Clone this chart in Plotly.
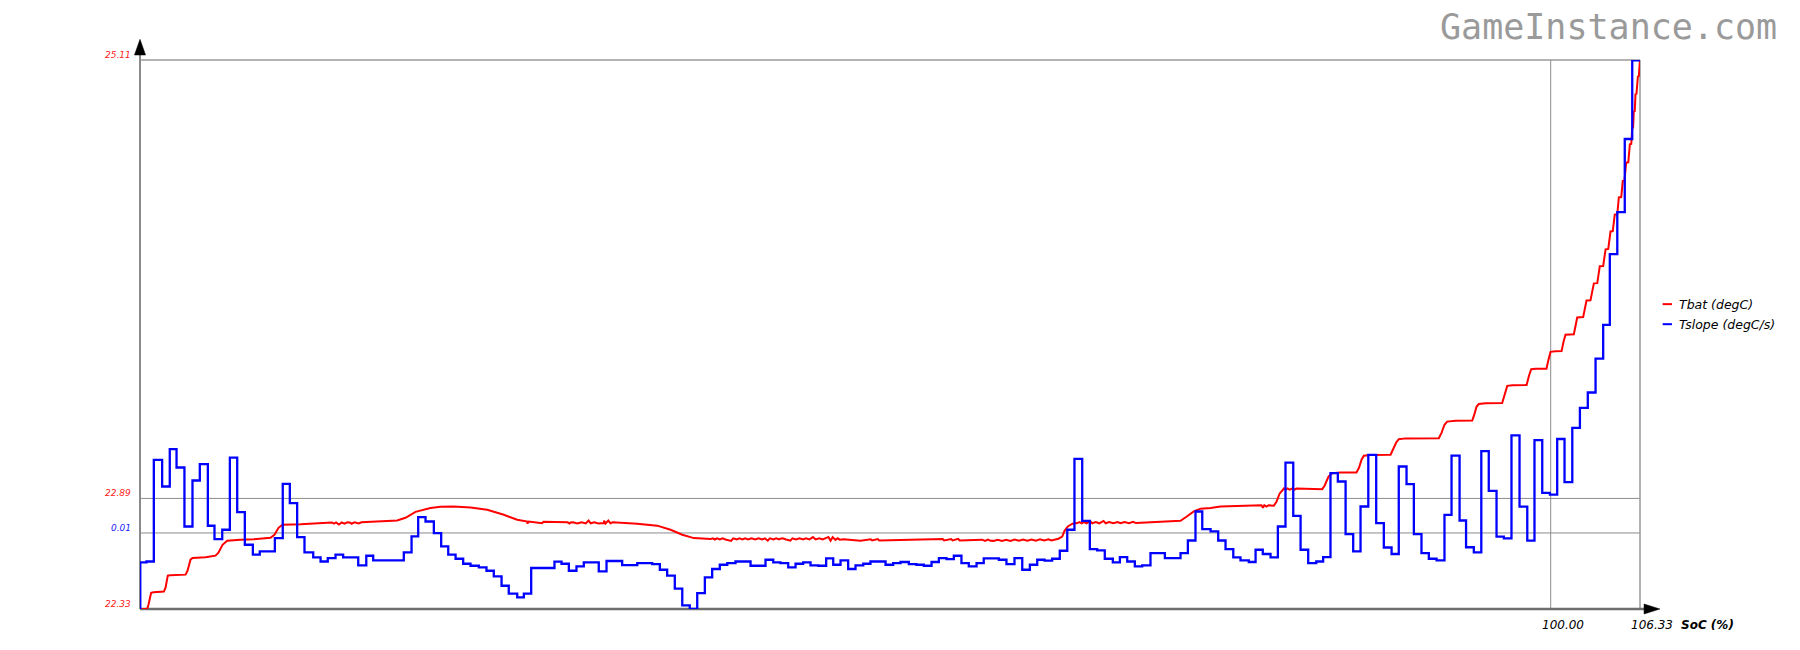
import plotly.graph_objects as go

# ---------------- data ----------------
# Tbat (degC) vs SoC (%)
tbat_x = [0, 0.51, 0.60, 0.79, 0.96, 1.69, 1.81, 1.97, 2.16, 3.23, 3.37, 3.58, 3.72, 4.64, 5.35, 5.56,
          5.85, 6.18, 7.12, 8.07, 9.25, 9.53, 9.82, 10.10, 11.38, 12.56, 14.92, 17.05, 18.23, 18.82,
          19.53, 20.59, 21.30, 22.24, 23.43, 24.61, 25.79, 26.74, 27.45, 30.52, 32.88, 35.25, 36.66,
          37.61, 38.44, 39.26, 40.44, 45.40, 49.87, 51.07, 60.29, 64.76, 65.11, 65.37, 65.54, 65.77,
          66.10, 66.44, 71.40, 73.76, 74.18, 74.70, 75.18, 75.89, 76.59, 78.72, 80.37, 80.56, 80.78,
          80.97, 81.56, 83.80, 83.97, 84.25, 84.51, 85.10, 86.23, 86.41, 86.59, 86.75, 87.23, 88.65,
          88.82, 89.04, 89.23, 89.71, 92.07, 92.26, 92.47, 92.66, 93.25, 94.44, 94.60, 94.74, 94.90,
          95.38, 96.56, 96.73, 96.92, 97.29, 98.29, 98.46, 98.62, 98.92, 99.70, 99.84, 99.99, 100.34,
          100.77, 100.91, 101.05, 101.64, 101.76, 101.88, 102.30, 102.43, 102.54, 102.82, 102.95,
          103.06, 103.30, 103.39, 103.48, 103.72, 103.81, 103.89, 104.08, 104.17, 104.24, 104.40,
          104.49, 104.54, 104.72, 104.78, 104.83, 105.00, 105.11, 105.23, 105.35, 105.50, 105.61,
          105.71, 105.78, 105.84, 105.89, 105.96, 106.01, 106.08, 106.18, 106.25, 106.32]
tbat_y = [22.330, 22.330, 22.352, 22.412, 22.415, 22.418, 22.438, 22.499, 22.501, 22.504, 22.524,
          22.580, 22.588, 22.592, 22.600, 22.615, 22.655, 22.676, 22.681, 22.683, 22.691, 22.706,
          22.741, 22.757, 22.759, 22.762, 22.767, 22.772, 22.778, 22.792, 22.822, 22.841, 22.848,
          22.849, 22.844, 22.833, 22.807, 22.782, 22.773, 22.768, 22.765, 22.762, 22.752, 22.731,
          22.706, 22.689, 22.684, 22.686, 22.683, 22.676, 22.676, 22.681, 22.686, 22.697, 22.726,
          22.748, 22.762, 22.765, 22.768, 22.777, 22.797, 22.824, 22.838, 22.841, 22.849, 22.851,
          22.853, 22.873, 22.914, 22.934, 22.936, 22.937, 22.954, 23.000, 23.018, 23.021, 23.021,
          23.045, 23.086, 23.106, 23.110, 23.111, 23.136, 23.172, 23.190, 23.194, 23.195, 23.222,
          23.263, 23.279, 23.283, 23.284, 23.318, 23.354, 23.368, 23.372, 23.373, 23.420, 23.460,
          23.463, 23.464, 23.511, 23.544, 23.546, 23.547, 23.592, 23.632, 23.635, 23.636, 23.683,
          23.719, 23.721, 23.769, 23.806, 23.808, 23.855, 23.892, 23.893, 23.941, 23.979, 23.980,
          24.027, 24.066, 24.067, 24.118, 24.151, 24.153, 24.199, 24.242, 24.244, 24.290, 24.327,
          24.329, 24.376, 24.414, 24.416, 24.498, 24.499, 24.590, 24.592, 24.683, 24.685, 24.766,
          24.768, 24.850, 24.852, 24.937, 24.939, 25.026, 25.029, 25.104]

# Tbat sensor jitter read in the flat stretches (extra samples of the same series)
tbat_jit_x = [13.6, 13.75, 13.9, 14.1, 14.3, 14.5, 14.7, 15.0, 15.2, 15.5, 15.7,
              27.46, 27.55, 28.5, 28.6,
              30.3, 30.45, 30.7, 31.0, 31.3, 31.6, 31.8, 31.95, 32.2, 32.5, 32.9, 33.0, 33.2, 33.35, 33.5,
              40.6, 40.75, 40.9, 41.1, 41.3, 41.5, 41.9, 42.05, 42.3, 42.5, 42.7, 42.9, 43.1, 43.35,
              43.6, 43.85, 44.1, 44.3, 44.5, 44.65, 44.9, 45.1, 45.3, 45.55, 45.8, 46.1, 46.25, 46.5,
              46.75, 47.0, 47.2, 47.45, 47.7, 47.9, 48.15, 48.4, 48.8, 48.95, 49.1, 49.3, 49.45, 49.6,
              51.8, 51.9, 52.3, 52.4, 56.9, 57.0, 57.5, 57.6, 58.0, 58.1,
              59.7, 59.9, 60.1, 60.5, 60.8, 61.1, 61.4, 61.7, 62.0, 62.3, 62.6, 62.9, 63.2, 63.5,
              63.8, 64.1, 64.4, 64.6,
              66.6, 66.75, 66.9, 67.1, 67.35, 67.5, 67.75, 68.0, 68.3, 68.45, 68.7, 69.0, 69.3, 69.5,
              69.8, 70.1, 70.4, 70.6,
              79.5, 79.6, 79.7, 79.85, 80.0,
              81.1, 81.2, 81.35, 81.5, 81.7, 81.85, 82.0]
tbat_jit_y = [22.768, 22.762, 22.768, 22.758, 22.768, 22.762, 22.769, 22.762, 22.769, 22.763, 22.769,
              22.762, 22.773, 22.764, 22.772,
              22.769, 22.763, 22.769, 22.763, 22.769, 22.763, 22.778, 22.764, 22.769, 22.763, 22.777,
              22.763, 22.778, 22.764, 22.769,
              22.688, 22.682, 22.688, 22.682, 22.688, 22.682, 22.675, 22.688, 22.682, 22.688, 22.682,
              22.688, 22.682, 22.688, 22.682, 22.688, 22.682, 22.688, 22.676, 22.688, 22.682, 22.688,
              22.682, 22.688, 22.682, 22.676, 22.688, 22.682, 22.688, 22.682, 22.688, 22.682, 22.694,
              22.682, 22.688, 22.682, 22.695, 22.676, 22.694, 22.680, 22.688, 22.681,
              22.683, 22.677, 22.684, 22.677, 22.685, 22.677, 22.684, 22.677, 22.685, 22.677,
              22.681, 22.675, 22.681, 22.675, 22.681, 22.675, 22.681, 22.675, 22.682, 22.676, 22.682,
              22.676, 22.682, 22.676, 22.683, 22.677, 22.683, 22.677,
              22.770, 22.764, 22.770, 22.764, 22.775, 22.764, 22.770, 22.764, 22.776, 22.764, 22.770,
              22.764, 22.770, 22.764, 22.770, 22.765, 22.771, 22.765,
              22.855, 22.842, 22.856, 22.849, 22.855,
              22.941, 22.934, 22.941, 22.934, 22.941, 22.935, 22.940]

# Tslope (degC/s) vs SoC (%), step samples
tslope_x = [0, 0.02, 0.46, 0.98, 1.57, 2.11, 2.59, 3.15, 3.72, 4.24, 4.81, 5.28, 5.83, 6.37, 6.89,
            7.43, 8.00, 8.49, 9.56, 10.12, 10.62, 11.14, 11.66, 12.28, 12.80, 13.31, 13.86, 14.40,
            15.47, 16.04, 16.53, 18.70, 19.25, 19.72, 20.24, 20.83, 21.35, 21.85, 22.37, 22.91,
            23.43, 24.02, 24.56, 25.08, 25.63, 26.14, 26.74, 27.21, 27.73, 29.38, 29.88, 30.40,
            30.94, 31.46, 32.52, 33.07, 34.18, 35.25, 36.31, 36.85, 37.37, 37.91, 38.44, 38.97,
            39.50, 40.04, 40.56, 41.10, 41.63, 42.21, 43.28, 44.34, 44.89, 45.40, 45.95, 46.47,
            47.01, 47.53, 48.08, 48.64, 49.14, 49.66, 50.20, 50.72, 51.27, 51.78, 52.85, 53.39,
            53.91, 54.50, 55.04, 55.56, 56.11, 56.63, 57.17, 57.69, 58.23, 58.75, 59.30, 59.81,
            60.88, 61.42, 61.99, 62.54, 63.08, 63.60, 64.12, 64.66, 65.20, 65.73, 66.24, 66.79,
            67.33, 67.85, 68.39, 68.96, 69.46, 69.98, 70.52, 71.04, 71.63, 72.65, 73.76, 74.28,
            74.82, 75.30, 75.89, 76.43, 76.95, 77.50, 78.01, 78.60, 79.08, 79.59, 80.14, 80.66,
            81.20, 81.75, 82.27, 82.81, 83.38, 83.87, 84.39, 84.91, 85.46, 86.00, 86.52, 87.07,
            87.63, 88.17, 88.72, 89.23, 89.78, 90.30, 90.84, 91.36, 91.91, 92.47, 92.97, 93.54,
            94.00, 94.55, 95.08, 95.61, 96.16, 96.68, 97.22, 97.79, 98.34, 98.85, 99.40, 99.94,
            100.46, 100.98, 101.53, 102.07, 102.63, 103.18, 103.72, 104.19, 104.72, 105.25,
            105.78, 106.33]
tslope_y = [0, 0.00612, 0.00625, 0.01962, 0.01611, 0.02102, 0.01861, 0.01085, 0.01690, 0.01905,
            0.01095, 0.00920, 0.01042, 0.01992, 0.01275, 0.00845, 0.00714, 0.00757, 0.00933,
            0.01646, 0.01393, 0.00946, 0.00744, 0.00678, 0.00625, 0.00670, 0.00714, 0.00678,
            0.00573, 0.00700, 0.00639, 0.00744, 0.00954, 0.01209, 0.01151, 0.00999, 0.00823,
            0.00714, 0.00661, 0.00595, 0.00569, 0.00547, 0.00503, 0.00428, 0.00306, 0.00201,
            0.00152, 0.00201, 0.00539, 0.00622, 0.00595, 0.00503, 0.00560, 0.00612, 0.00494,
            0.00631, 0.00578, 0.00604, 0.00591, 0.00516, 0.00438, 0.00267, 0.00047, 0.0,
            0.00210, 0.00415, 0.00526, 0.00582, 0.00604, 0.00625, 0.00569, 0.00648, 0.00612,
            0.00604, 0.00547, 0.00595, 0.00612, 0.00573, 0.00569, 0.00665, 0.00582, 0.00639,
            0.00526, 0.00573, 0.00595, 0.00625, 0.00582, 0.00604, 0.00618, 0.00591, 0.00582,
            0.00569, 0.00618, 0.00670, 0.00657, 0.00700, 0.00604, 0.00560, 0.00604, 0.00665,
            0.00648, 0.00591, 0.00670, 0.00516, 0.00582, 0.00648, 0.00635, 0.00661, 0.00766,
            0.01042, 0.01975, 0.01160, 0.00788, 0.00770, 0.00661, 0.00612, 0.00683, 0.00625,
            0.00560, 0.00573, 0.00736, 0.00670, 0.00736, 0.00901, 0.01282, 0.01051, 0.01020,
            0.00901, 0.00788, 0.00678, 0.00639, 0.00618, 0.00779, 0.00723, 0.00678, 0.01085,
            0.01926, 0.01226, 0.00779, 0.00604, 0.00625, 0.00683, 0.01787, 0.01677, 0.00986,
            0.00757, 0.01348, 0.02028, 0.01130, 0.00809, 0.00723, 0.01874, 0.01643, 0.00986,
            0.00736, 0.00661, 0.00639, 0.01239, 0.02018, 0.01164, 0.00812, 0.00745, 0.02077,
            0.01553, 0.00951, 0.00928, 0.02284, 0.01346, 0.00899, 0.02222, 0.01528, 0.01505,
            0.02236, 0.01669, 0.02381, 0.02645, 0.02847, 0.03294, 0.03737, 0.04666, 0.05219,
            0.06181, 0.07217, 0.07217]

assert len(tbat_x) == len(tbat_y), (len(tbat_x), len(tbat_y))
assert len(tbat_jit_x) == len(tbat_jit_y), (len(tbat_jit_x), len(tbat_jit_y))
assert len(tslope_x) == len(tslope_y), (len(tslope_x), len(tslope_y))

x_range = [0, 106.33]
tbat_range = [22.33, 25.11]
tslope_range = [0, 0.0722]
tbat_ticks = [22.33, 22.89, 25.11]
tslope_ticks = [0.01]
x_ticks = [100.00, 106.33]
series_names = ["Tbat (degC)", "Tslope (degC/s)"]
series_colors = ["#ff0000", "#0000ff"]
x_title = "SoC (%)"

# merge all Tbat samples in SoC order
tbat_pts = sorted(zip(tbat_x + tbat_jit_x, tbat_y + tbat_jit_y))
tbat_all_x = [p[0] for p in tbat_pts]
tbat_all_y = [p[1] for p in tbat_pts]

# ---------------- figure ----------------
fig = go.Figure()
fig.add_trace(go.Scatter(x=tbat_all_x, y=tbat_all_y, mode="lines", yaxis="y",
                         line=dict(color=series_colors[0], width=2), name=series_names[0]))
fig.add_trace(go.Scatter(x=tslope_x, y=tslope_y, mode="lines", yaxis="y2",
                         line=dict(color=series_colors[1], width=2.3, shape="hv"),
                         name=series_names[1]))

grid = "#8c8c8c"
shapes = [
    dict(type="line", xref="paper", yref="y", x0=0, x1=1, y0=22.89, y1=22.89,
         line=dict(color=grid, width=1), layer="below"),
    dict(type="line", xref="paper", yref="y2", x0=0, x1=1, y0=0.01, y1=0.01,
         line=dict(color=grid, width=1), layer="below"),
    dict(type="line", xref="x", yref="paper", x0=100, x1=100, y0=0, y1=1,
         line=dict(color=grid, width=1), layer="below"),
    dict(type="line", xref="paper", yref="paper", x0=0, x1=1, y0=1, y1=1,
         line=dict(color="#9a9a9a", width=1.5), layer="below"),
    dict(type="line", xref="paper", yref="paper", x0=1, x1=1, y0=0, y1=1,
         line=dict(color="#9a9a9a", width=1.5), layer="below"),
    dict(type="line", xref="paper", yref="paper", x0=0, x1=0, y0=0, y1=1.009,
         line=dict(color="#8a8a8a", width=2), layer="below"),
    dict(type="line", xref="paper", yref="paper", x0=0, x1=1.003, y0=0, y1=0,
         line=dict(color="#6e6e6e", width=2.5), layer="below"),
    # axis arrows
    dict(type="path", xref="paper", yref="paper",
         path="M -0.0037,1.0091 L 0.0037,1.0091 L 0,1.0377 Z",
         fillcolor="black", line=dict(color="black", width=0.5)),
    dict(type="path", xref="paper", yref="paper",
         path="M 1.0027,-0.0091 L 1.0027,0.0091 L 1.0133,0 Z",
         fillcolor="black", line=dict(color="black", width=0.5)),
    # legend swatches
    dict(type="line", xref="paper", yref="paper", x0=1.0151, x1=1.0213, y0=0.5553, y1=0.5553,
         line=dict(color=series_colors[0], width=2)),
    dict(type="line", xref="paper", yref="paper", x0=1.0151, x1=1.0213, y0=0.5188, y1=0.5188,
         line=dict(color=series_colors[1], width=2)),
]

lab_font = "DejaVu Sans"
annotations = []
for v in tbat_ticks:
    annotations.append(dict(xref="paper", yref="y", x=0, y=v, xshift=-7, yshift=5,
                            text=f"<i>{v:.2f}</i>", showarrow=False, xanchor="right",
                            yanchor="middle", font=dict(family=lab_font, size=9, color="#ff2020")))
for v in tslope_ticks:
    annotations.append(dict(xref="paper", yref="y2", x=0, y=v, xshift=-7, yshift=5,
                            text=f"<i>{v:.2f}</i>", showarrow=False, xanchor="right",
                            yanchor="middle", font=dict(family=lab_font, size=9, color="#2020ff")))
for v in x_ticks:
    annotations.append(dict(xref="x", yref="paper", x=v, y=0, xshift=12, yshift=-16,
                            text=f"<i>{v:.2f}</i>", showarrow=False, xanchor="center",
                            yanchor="middle", font=dict(family=lab_font, size=12, color="black")))
annotations.append(dict(xref="paper", yref="paper", x=1.0262, y=0, yshift=-16,
                        text=f"<b><i>{x_title}</i></b>", showarrow=False, xanchor="left",
                        yanchor="middle", font=dict(family=lab_font, size=12, color="black")))
for name, yp in zip(series_names, [0.5553, 0.5188]):
    annotations.append(dict(xref="paper", yref="paper", x=1.0244, y=yp,
                            text=f"<i>{name}</i>", showarrow=False, xanchor="left",
                            yanchor="middle", font=dict(family=lab_font, size=12.5, color="black")))
annotations.append(dict(xref="paper", yref="paper", x=0.9787, y=1.061,
                        text="GameInstance.com", showarrow=False, xanchor="center",
                        yanchor="middle",
                        font=dict(family="DejaVu Sans Mono", size=35, color="#9a9a9a")))

# page body has an 8px default margin, so the figure is 8px smaller and margins compensate
fig.update_layout(
    width=1792, height=642,
    margin=dict(l=132, r=160, t=52, b=41),
    paper_bgcolor="white", plot_bgcolor="white",
    showlegend=False,
    xaxis=dict(range=x_range, visible=False),
    yaxis=dict(range=tbat_range, visible=False),
    yaxis2=dict(range=tslope_range, visible=False, overlaying="y"),
    shapes=shapes,
    annotations=annotations,
)

fig.write_html("out.html")
